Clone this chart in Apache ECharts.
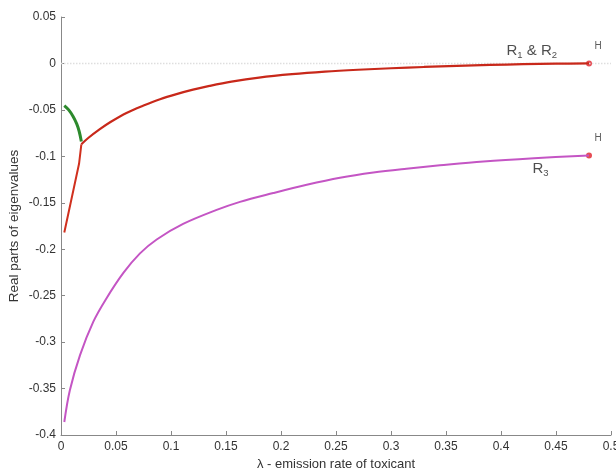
<!DOCTYPE html>
<html><head><meta charset="utf-8">
<script src="https://cdn.jsdelivr.net/npm/echarts@6/dist/echarts.min.js"></script>
<style>html,body{margin:0;padding:0;background:#fff}#c{width:616px;height:470px}</style>
</head><body><div id="c"></div>
<script>
const xTicks = [0,0.05,0.1,0.15,0.2,0.25,0.3,0.35,0.4,0.45,0.5];
const yTicks = [0.05,0,-0.05,-0.1,-0.15,-0.2,-0.25,-0.3,-0.35,-0.4];

const r3X = [0.003,0.008,0.0173,0.0294,0.041,0.0567,0.0718,0.087,0.111,0.1415,0.1627,0.193,0.2234,0.2536,0.284,0.314,0.3445,0.384,0.43,0.48];
const r3Y = [-0.386,-0.352,-0.314,-0.278,-0.2535,-0.2255,-0.2045,-0.1895,-0.1728,-0.1577,-0.149,-0.1395,-0.1306,-0.1230,-0.1174,-0.1133,-0.1097,-0.1055,-0.102,-0.099];

const r12X = [0.0185,0.025,0.035,0.045,0.06,0.075,0.09,0.105,0.12,0.135,0.155,0.18,0.21,0.24,0.27,0.3,0.33,0.36,0.39,0.42,0.45,0.48];
const r12Y = [-0.087,-0.080,-0.071,-0.063,-0.053,-0.0453,-0.0385,-0.0330,-0.0282,-0.0242,-0.0196,-0.0152,-0.0115,-0.0088,-0.0068,-0.0052,-0.0038,-0.0026,-0.0016,-0.0008,-0.0003,0];

const r2LowX = [0.003,0.0164,0.0185];
const r2LowY = [-0.182,-0.108,-0.087];

const r1GreenX = [0.003,0.007,0.011,0.0143,0.0165,0.0185];
const r1GreenY = [-0.0453,-0.050,-0.057,-0.065,-0.073,-0.084];

const hopfX = [0.48,0.48];
const hopfY = [0,-0.099];

const zeroX = [0,0.5];
const zeroY = [0,0];

const labelR12 = [0.428,0.014];
const labelR3 = [0.436,-0.113];

const zip = (a,b)=>a.map((v,i)=>[v,b[i]]);

const chart = echarts.init(document.getElementById('c'), null, {renderer:'canvas'});
const F = 'Liberation Sans, Arial, sans-serif';
chart.setOption({
  animation:false,
  grid:{left:61,right:5,top:17,bottom:35,containLabel:false,outerBoundsMode:'none'},
  xAxis:{type:'value',min:0,max:0.5,interval:0.05,
    name:'λ - emission rate of toxicant',nameLocation:'middle',nameGap:23,nameMoveOverlap:false,
    nameTextStyle:{fontFamily:F,fontSize:13,color:'#333'},
    axisLine:{onZero:false,lineStyle:{color:'#888'}},
    axisTick:{inside:true,length:4,lineStyle:{color:'#888'}},
    axisLabel:{fontFamily:F,fontSize:12,color:'#333',margin:6,showMaxLabel:true,hideOverlap:false,
      formatter:v=>{const t=xTicks.find(k=>Math.abs(k-v)<1e-9);return t===undefined?'':String(t);}},
    splitLine:{show:false}},
  yAxis:{type:'value',min:-0.4,max:0.05,interval:0.05,
    name:'Real parts of eigenvalues',nameLocation:'middle',nameGap:40,nameMoveOverlap:false,
    nameTextStyle:{fontFamily:F,fontSize:13.5,color:'#333'},
    axisLine:{show:true,onZero:false,lineStyle:{color:'#888'}},
    axisTick:{show:true,inside:true,length:4,lineStyle:{color:'#888'}},
    axisLabel:{fontFamily:F,fontSize:12,color:'#333',margin:5,
      formatter:v=>{const t=yTicks.find(k=>Math.abs(k-v)<1e-9);return t===undefined?'':String(t);}},
    splitLine:{show:false}},
  series:[
    {type:'line',data:zip(zeroX,zeroY),symbol:'none',silent:true,
      lineStyle:{color:'#dedede',width:1.5,type:'dotted'}},
    {type:'line',data:zip(r3X,r3Y),symbol:'none',smooth:0.35,
      lineStyle:{color:'#c455c4',width:2}},
    {type:'line',data:zip(r2LowX,r2LowY),symbol:'none',
      lineStyle:{color:'#d0301e',width:2}},
    {type:'line',data:zip(r12X,r12Y),symbol:'none',smooth:0.35,
      lineStyle:{color:'#c8281a',width:2.2}},
    {type:'line',data:zip(r1GreenX,r1GreenY),symbol:'none',smooth:0.4,
      lineStyle:{color:'#2d8a2d',width:3}},
    {type:'scatter',data:zip(hopfX,hopfY),symbol:'circle',symbolSize:6,
      itemStyle:{color:'#e0202a'},
      label:{show:true,formatter:'H',position:'top',offset:[9,-4],fontFamily:F,fontSize:10,color:'#333'}},
    {type:'scatter',data:[labelR12],symbolSize:0,
      label:{show:true,position:'inside',fontFamily:F,
        formatter:'{r|R}{s|1}{r| & R}{s|2}',
        rich:{r:{fontSize:15,color:'#222',fontFamily:F},s:{fontSize:9.5,color:'#222',fontFamily:F,padding:[10,0,0,0]}}}},
    {type:'scatter',data:[labelR3],symbolSize:0,
      label:{show:true,position:'inside',fontFamily:F,
        formatter:'{r|R}{s|3}',
        rich:{r:{fontSize:15,color:'#222',fontFamily:F},s:{fontSize:9.5,color:'#222',fontFamily:F,padding:[10,0,0,0]}}}}
  ]
});
</script></body></html>
